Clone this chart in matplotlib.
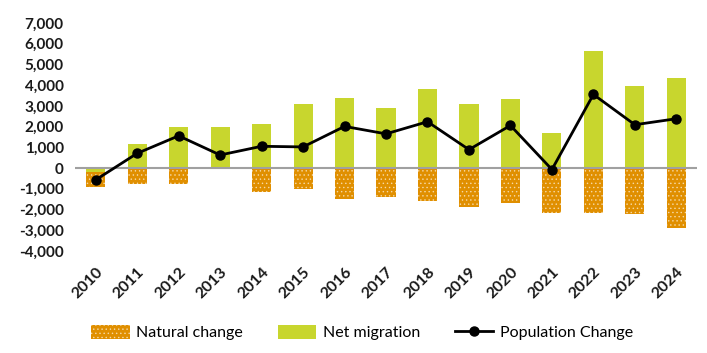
import numpy as np
import matplotlib.pyplot as plt

plt.rcParams['font.family'] = ['Lato', 'DejaVu Sans']
plt.rcParams['hatch.linewidth'] = 0.5

years = ['2010', '2011', '2012', '2013', '2014', '2015', '2016', '2017',
         '2018', '2019', '2020', '2021', '2022', '2023', '2024']
natural_change = [-740, -750, -750, 0, -1140, -1020, -1475, -1395,
                  -1605, -1865, -1690, -2175, -2190, -2240, -2870]
net_migration = [-170, 1170, 1975, 1960, 2140, 3090, 3400, 2915,
                 3790, 3110, 3355, 1680, 5640, 3970, 4340]
population_change = [-570, 710, 1555, 630, 1050, 1020, 2010, 1650,
                     2235, 890, 2055, -70, 3550, 2090, 2380]

orange = '#E08F00'
green = '#C8D62E'

x = np.arange(len(years))
# negative migration sits just under zero, natural change stacks below it
nat_bottom = [min(m, 0) for m in net_migration]

fig = plt.figure(figsize=(7.07, 3.53), dpi=100)
ax = fig.add_axes([0.106, 0.289, 0.88, 0.646])

b1 = ax.bar(x, natural_change, width=0.46, bottom=nat_bottom, color=orange,
            edgecolor='#F6D9A6', linewidth=0, hatch='....', label='Natural change')
b2 = ax.bar(x, net_migration, width=0.46, color=green, linewidth=0,
            label='Net migration')
ax.axhline(0, color='#A0A0A0', linewidth=1.5, zorder=2)
l1, = ax.plot(x, population_change, color='black', linewidth=2, marker='o',
              markersize=6.5, label='Population Change', zorder=3)

ax.set_xlim(-0.5, len(years) - 0.5)
ax.set_ylim(-4000, 7000)
ax.set_yticks(range(-4000, 7001, 1000))
ax.set_yticklabels([f'{v:,}' for v in range(-4000, 7001, 1000)],
                   fontsize=11, fontweight='bold', color='#1a1a1a')
ax.set_xticks(x)
ax.set_xticklabels(years, rotation=45, ha='right', rotation_mode='anchor',
                   fontsize=11.5, fontweight='bold', color='#1a1a1a')
ax.tick_params(axis='y', length=0, pad=8)
ax.tick_params(axis='x', length=0, pad=10)
for s in ax.spines.values():
    s.set_visible(False)

fig.legend(handles=[b1, b2, l1], loc='center', bbox_to_anchor=(0.512, 0.057),
           ncol=3, frameon=False, fontsize=11.5, handlelength=2.4,
           handleheight=0.9, columnspacing=2.2, handletextpad=0.4)

fig.savefig('out.png', dpi=100)
